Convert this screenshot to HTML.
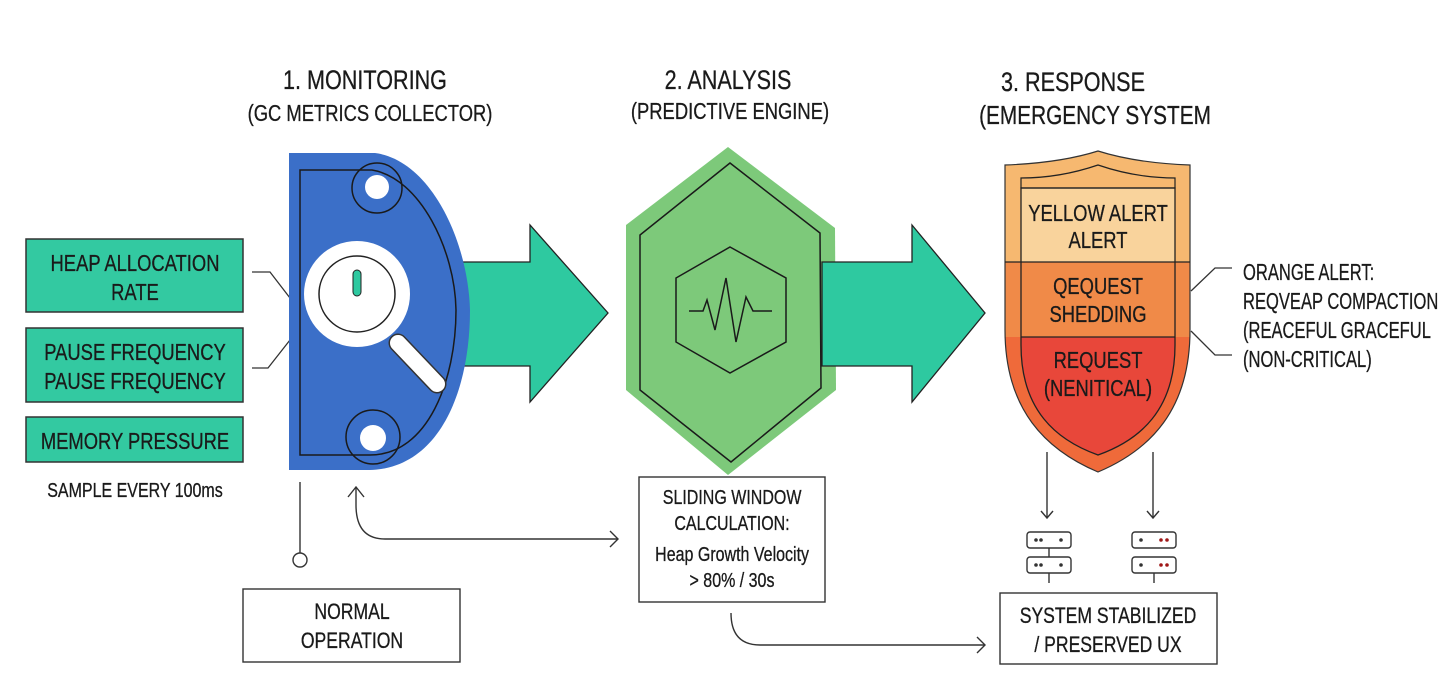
<!DOCTYPE html>
<html><head><meta charset="utf-8"><style>
html,body{margin:0;padding:0;background:#fff;}
svg{display:block;}
text{font-family:"Liberation Sans",sans-serif;fill:#1a1a1a;text-anchor:middle;transform-box:fill-box;transform-origin:center;transform:scaleX(0.8);stroke:#1a1a1a;stroke-width:0.3;}
text.l{text-anchor:start;transform-origin:left center;transform:scaleX(0.72);}
</style></head><body>
<svg width="1456" height="689" viewBox="0 0 1456 689" xmlns="http://www.w3.org/2000/svg">
<rect width="1456" height="689" fill="#fff"/>
<text x="365" y="89" font-size="27">1. MONITORING</text>
<text x="370" y="121" font-size="23">(GC METRICS COLLECTOR)</text>
<text x="728" y="89" font-size="27">2. ANALYSIS</text>
<text x="730" y="119" font-size="23">(PREDICTIVE ENGINE)</text>
<text x="1073" y="91" font-size="27">3. RESPONSE</text>
<text x="1095" y="124" font-size="26">(EMERGENCY SYSTEM</text>

<g stroke="#333" stroke-width="1.5" fill="#33c9a1">
<rect x="26" y="239" width="217" height="73"/>
<rect x="26" y="328" width="217" height="74"/>
<rect x="26" y="417" width="217" height="45"/>
</g>
<g font-size="23">
<text x="135" y="271">HEAP ALLOCATION</text>
<text x="135" y="300">RATE</text>
<text x="135" y="360">PAUSE FREQUENCY</text>
<text x="135" y="389">PAUSE FREQUENCY</text>
<text x="135" y="449">MEMORY PRESSURE</text>
</g>
<text x="135" y="497" font-size="20">SAMPLE EVERY 100ms</text>
<g fill="none" stroke="#333" stroke-width="1.3">
<path d="M252,272 L270,272 L290,298"/>
<path d="M252,368 L268,368 L290,340"/>
</g>

<path d="M455,262 L530,262 L530,225 L608,313 L530,402 L530,366 L455,366 Z" fill="#2ec9a0" stroke="#222" stroke-width="1.3"/>

<path d="M289,153 L375,153 C430,160 468,240 470,310 C470,390 440,468 370,470 L289,470 Z" fill="#3b6fc8"/>
<path d="M300,170 L372,170 C420,178 455,250 456,310 C456,380 428,455 370,455 L300,455 Z" fill="none" stroke="#1a1a1a" stroke-width="1.5"/>
<circle cx="377" cy="188" r="25" fill="none" stroke="#1a1a1a" stroke-width="1.5"/>
<circle cx="377" cy="187" r="12" fill="#fff"/>
<circle cx="373" cy="437" r="27" fill="none" stroke="#1a1a1a" stroke-width="1.5"/>
<circle cx="373" cy="438" r="13" fill="#fff"/>
<line x1="398" y1="343" x2="437" y2="384" stroke="#333" stroke-width="19" stroke-linecap="round"/>
<line x1="398" y1="343" x2="437" y2="384" stroke="#fff" stroke-width="16" stroke-linecap="round"/>
<circle cx="357" cy="294" r="53" fill="#fff"/>
<circle cx="357" cy="294" r="38" fill="none" stroke="#222" stroke-width="1.5"/>
<rect x="353" y="270" width="8" height="26" rx="4" fill="#2ec9a0" stroke="#222" stroke-width="1"/>

<path d="M728,147 L835,228 L836,390 L728,475 L626,390 L626,225 Z" fill="#7dc97a"/>
<path d="M730,163 L820,233 L821,388 L731,462 L640,390 L640,235 Z" fill="none" stroke="#1a1a1a" stroke-width="1.5"/>
<path d="M730,247 L786,278 L786,342 L730,373 L676,342 L676,278 Z" fill="none" stroke="#1a1a1a" stroke-width="1.5"/>
<path d="M689,311 L703,311 L707,300 L715,330 L726,278 L736,342 L746,297 L753,311 L772,311" fill="none" stroke="#1a1a1a" stroke-width="1.5"/>

<path d="M822,262 L912,262 L912,225 L985,313 L912,402 L912,366 L822,366 Z" fill="#2ec9a0" stroke="#222" stroke-width="1.3"/>

<defs>
<clipPath id="sh"><path d="M1005,165 Q1060,163 1098,151 Q1136,163 1190,165 L1190,330 C1190,410 1150,450 1098,472 C1046,450 1005,410 1005,330 Z"/></clipPath>
</defs>
<g clip-path="url(#sh)">
<rect x="1000" y="145" width="200" height="117" fill="#f6b870"/>
<rect x="1021" y="188" width="154" height="74" fill="#f9d39c"/>
<rect x="1000" y="262" width="200" height="75" fill="#f08a48"/>
<rect x="1000" y="337" width="200" height="140" fill="#ef6a3a"/>
</g>
<path d="M1021,337 L1175,337 L1175,345 C1175,410 1140,440 1098,455 C1056,440 1021,410 1021,345 Z" fill="#e8473a"/>
<path d="M1005,165 Q1060,163 1098,151 Q1136,163 1190,165 L1190,330 C1190,410 1150,450 1098,472 C1046,450 1005,410 1005,330 Z" fill="none" stroke="#333" stroke-width="1.2"/>
<path d="M1021,188 L1021,178 Q1060,178 1098,165 Q1136,178 1175,178 L1175,188 Z" fill="none" stroke="#222" stroke-width="1.2"/>
<path d="M1021,188 L1175,188 L1175,345 C1175,410 1140,440 1098,455 C1056,440 1021,410 1021,345 Z" fill="none" stroke="#222" stroke-width="1.3"/>
<line x1="1005" y1="262" x2="1190" y2="262" stroke="#222" stroke-width="1.2"/>
<line x1="1021" y1="337" x2="1175" y2="337" stroke="#222" stroke-width="1.3"/>
<g font-size="23">
<text x="1098" y="221">YELLOW ALERT</text>
<text x="1098" y="248">ALERT</text>
<text x="1098" y="294">QEQUEST</text>
<text x="1098" y="322">SHEDDING</text>
<text x="1098" y="368">REQUEST</text>
<text x="1098" y="396">(NENITICAL)</text>
</g>
<g fill="none" stroke="#333" stroke-width="1.3">
<path d="M1191,291 L1215,268 L1232,268"/>
<path d="M1191,331 L1215,355 L1232,355"/>
</g>
<g font-size="23">
<text class="l" x="1243" y="280">ORANGE ALERT:</text>
<text class="l" x="1243" y="309">REQVEAP COMPACTION</text>
<text class="l" x="1243" y="338">(REACEFUL GRACEFUL</text>
<text class="l" x="1243" y="367">(NON-CRITICAL)</text>
</g>

<g fill="none" stroke="#333" stroke-width="1.4">
<line x1="300" y1="482" x2="300" y2="553"/>
<circle cx="300" cy="560" r="7" fill="#fff"/>
<path d="M618,539 L385,539 Q356,539 356,505 L356,487"/>
<path d="M348,497 L356,487 L364,497"/>
<path d="M610,531 L618,539 L610,547"/>
<path d="M731,613 Q731,645 760,645 L985,645"/>
<path d="M977,637 L985,645 L977,653"/>
<line x1="1047" y1="452" x2="1047" y2="518"/>
<path d="M1041,511 L1047,518 L1053,511"/>
<line x1="1153" y1="452" x2="1153" y2="518"/>
<path d="M1147,511 L1153,518 L1159,511"/>
</g>
<rect x="243" y="589" width="217" height="73" fill="#fff" stroke="#333" stroke-width="1.4"/>
<text x="352" y="619" font-size="22">NORMAL</text>
<text x="352" y="648" font-size="22">OPERATION</text>
<rect x="639" y="477" width="186" height="125" fill="#fff" stroke="#333" stroke-width="1.4"/>
<g font-size="20">
<text x="732" y="504">SLIDING WINDOW</text>
<text x="732" y="530">CALCULATION:</text>
<text x="732" y="561">Heap Growth Velocity</text>
<text x="732" y="587">&gt; 80% / 30s</text>
</g>

<g fill="#fff" stroke="#333" stroke-width="1.4">
<line x1="1049" y1="548" x2="1049" y2="557"/>
<line x1="1049" y1="573" x2="1049" y2="583"/>
<line x1="1154" y1="573" x2="1154" y2="583"/>
<rect x="1027" y="532" width="44" height="16" rx="3"/>
<rect x="1027" y="557" width="44" height="16" rx="3"/>
<rect x="1132" y="532" width="44" height="16" rx="3"/>
<rect x="1132" y="557" width="44" height="16" rx="3"/>
</g>
<g fill="#333">
<circle cx="1036" cy="540" r="1.8"/><circle cx="1041" cy="540" r="1.8"/><circle cx="1061" cy="540" r="1.8"/>
<circle cx="1036" cy="565" r="1.8"/><circle cx="1041" cy="565" r="1.8"/><circle cx="1061" cy="565" r="1.8"/>
<circle cx="1141" cy="540" r="1.8"/><circle cx="1141" cy="565" r="1.8"/>
</g>
<g fill="#a01818">
<circle cx="1161" cy="540" r="1.8"/><circle cx="1167" cy="540" r="1.8"/>
<circle cx="1161" cy="565" r="1.8"/><circle cx="1167" cy="565" r="1.8"/>
</g>
<rect x="1000" y="593" width="217" height="71" fill="#fff" stroke="#333" stroke-width="1.4"/>
<text x="1108" y="623" font-size="22">SYSTEM STABILIZED</text>
<text x="1108" y="652" font-size="22">/ PRESERVED UX</text>
</svg>
</body></html>
